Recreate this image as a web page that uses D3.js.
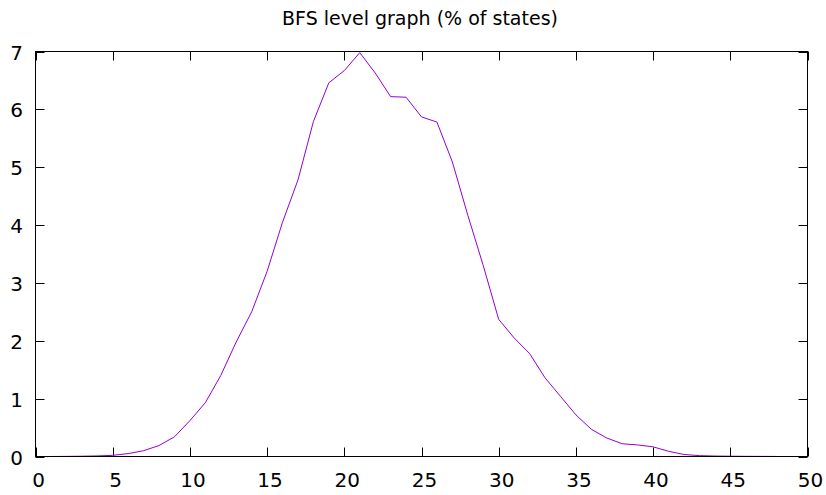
<!DOCTYPE html>
<html>
<head>
<meta charset="utf-8">
<script src="https://cdn.jsdelivr.net/npm/d3@7"></script>
<style>
  body { margin: 0; background: #fff; }
  text { font-family: "DejaVu Sans", sans-serif; fill: #000; }
</style>
</head>
<body>
<svg id="chart" width="826" height="495"></svg>
<script>
const title = 'BFS level graph (% of states)'
const levels = d3.range(0, 49)
const percent = [
  0, 0, 0.002, 0.005, 0.01, 0.02, 0.05, 0.1, 0.19, 0.34,
  0.62, 0.93, 1.4, 1.98, 2.5, 3.2, 4.05, 4.78, 5.79, 6.46,
  6.67, 6.98, 6.63, 6.22, 6.21, 5.87, 5.78, 5.09, 4.17, 3.3,
  2.37, 2.05, 1.78, 1.36, 1.04, 0.72, 0.47, 0.32, 0.22, 0.2,
  0.167, 0.09, 0.035, 0.015, 0.008, 0.005, 0.003, 0.002, 0.001
]
const xTicks = [0, 5, 10, 15, 20, 25, 30, 35, 40, 45, 50]
const yTicks = [0, 1, 2, 3, 4, 5, 6, 7]

const svg = d3.select('#chart')
const plotLeft = 35.5
const plotRight = 807.5
const plotTop = 51.5
const plotBottom = 456.5
const tick = 9

const x = d3.scaleLinear().domain([0, 50]).range([plotLeft, plotRight])
const y = d3.scaleLinear().domain([0, 7]).range([plotBottom, plotTop])

// title
svg.append('text')
  .attr('x', 420)
  .attr('y', 25)
  .attr('text-anchor', 'middle')
  .style('font-size', '19px')
  .text(title)

// ticks on all four sides, pointing inward
const g = svg.append('g').attr('stroke', '#000').attr('stroke-width', 1)
xTicks.forEach(t => {
  const px = Math.round(x(t)) + 0.5
  g.append('line').attr('x1', px).attr('x2', px)
    .attr('y1', plotBottom).attr('y2', plotBottom - tick)
  g.append('line').attr('x1', px).attr('x2', px)
    .attr('y1', plotTop).attr('y2', plotTop + tick)
})
yTicks.forEach(t => {
  const py = Math.round(y(t)) + 0.5
  g.append('line').attr('x1', plotLeft).attr('x2', plotLeft + tick)
    .attr('y1', py).attr('y2', py)
  g.append('line').attr('x1', plotRight).attr('x2', plotRight - tick)
    .attr('y1', py).attr('y2', py)
})

// tick labels
svg.append('g').selectAll('text').data(xTicks).enter().append('text')
  .attr('x', d => x(d) + 3)
  .attr('y', 487)
  .attr('text-anchor', 'middle')
  .style('font-size', '20px')
  .text(d => d)

svg.append('g').selectAll('text').data(yTicks).enter().append('text')
  .attr('x', 23)
  .attr('y', d => y(d) + 8)
  .attr('text-anchor', 'end')
  .style('font-size', '20px')
  .text(d => d)

// data line
const line = d3.line()
  .x((d, i) => x(levels[i]))
  .y(d => y(d))

svg.append('path')
  .datum(percent)
  .attr('d', line)
  .attr('fill', 'none')
  .attr('stroke', '#9400d3')
  .attr('stroke-width', 1)

// border
svg.append('rect')
  .attr('x', plotLeft).attr('y', plotTop)
  .attr('width', plotRight - plotLeft).attr('height', plotBottom - plotTop)
  .attr('fill', 'none')
  .attr('stroke', '#000')
  .attr('stroke-width', 1)
</script>
</body>
</html>
